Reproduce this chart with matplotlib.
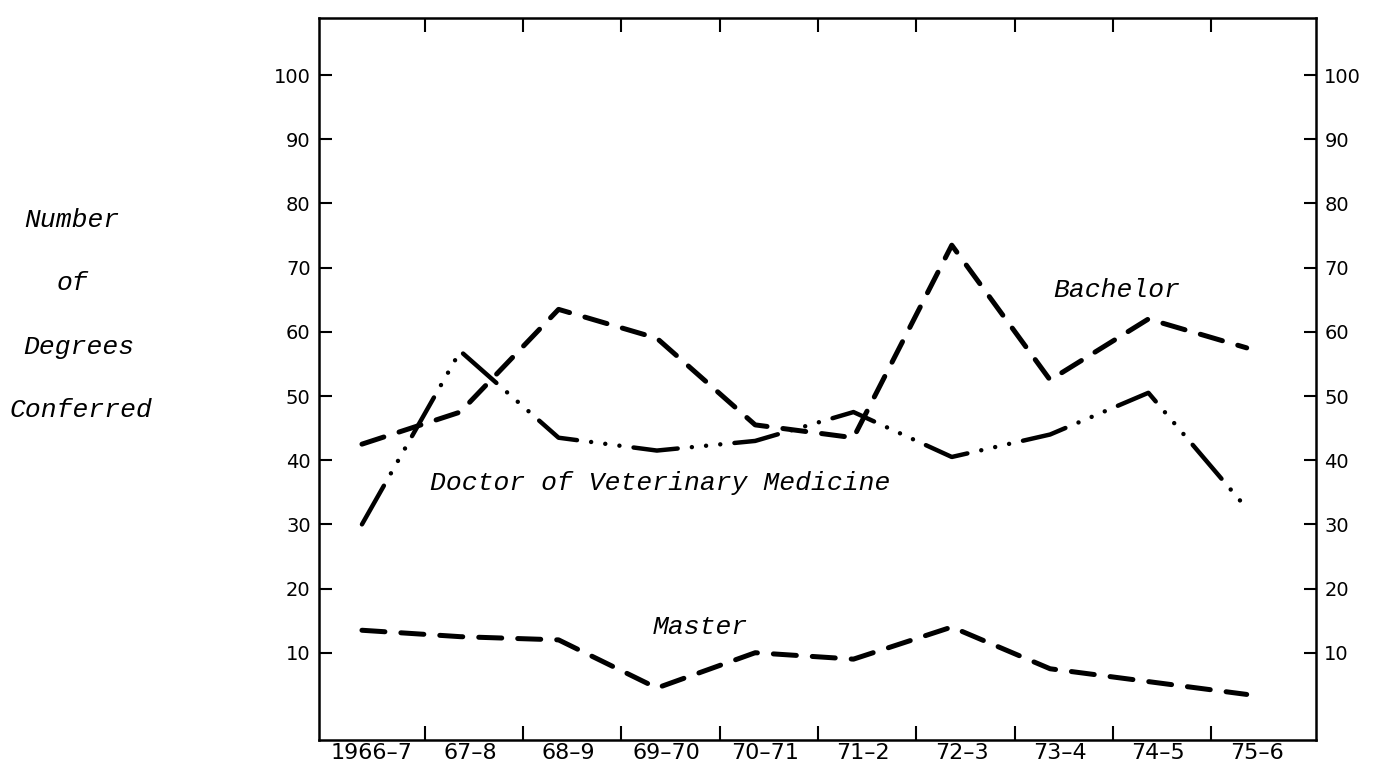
import numpy as np
import matplotlib
matplotlib.use("Agg")
import matplotlib.pyplot as plt

# 学位授与数 (読み取り値)
years = ["1966–7", "67–8", "68–9", "69–70", "70–71", "71–2", "72–3", "73–4", "74–5", "75–6"]
bachelor = [42.5, 47.5, 63.5, 59, 45.5, 43.5, 73.5, 52.5, 62, 57.5]
dvm = [30, 57, 43.5, 41.5, 43, 47.5, 40.5, 44, 50.5, 32.5]
master = [13.5, 12.5, 12, 4.5, 10, 9, 14, 7.5, 5.5, 3.5]
yticks = [10, 20, 30, 40, 50, 60, 70, 80, 90, 100]
ylabel_lines = ["Number", "of", "Degrees", "Conferred"]

W, H = 1380, 764
fig = plt.figure(figsize=(W/100, H/100), dpi=100)
ax = fig.add_axes([319/W, 1-740/H, (1316-319)/W, (740-18)/H])

x = np.arange(len(years))
mono = 'Liberation Mono'

ax.plot(x, bachelor, color='black', lw=3.6, dashes=(4.6, 3.2), dash_capstyle='round')
ax.plot(x, master, color='black', lw=3.6, dashes=(4.6, 3.2), dash_capstyle='round')
ax.plot(x, dvm, color='black', lw=3.2, dashes=(10, 3.2, 0.01, 3.2, 0.01, 3.2, 0.01, 3.2),
        dash_capstyle='round')

ax.set_xlim(-0.437, 9.705)
ax.set_ylim(-3.6, 108.9)

# ラベルは区間の中、目盛りは区間の境目
ax.set_xticks(x + 0.1, years)
ax.set_xticks(x[:-1] + 0.64, minor=True)
ax.tick_params(axis='x', which='major', length=0, pad=2, labelsize=16)
ax.tick_params(axis='x', which='minor', direction='in', length=10, width=1.5, top=True, bottom=True)

ax.set_yticks(yticks)
ax.tick_params(axis='y', direction='in', length=9, width=1.5, left=True, right=True,
               labelleft=True, labelright=True, labelsize=14, pad=6)

for s in ax.spines.values():
    s.set_linewidth(1.8)

ax.text(7.68, 66.5, "Bachelor", fontfamily=mono, style='italic', fontsize=19, ha='center', va='center')
ax.text(3.03, 36.4, "Doctor of Veterinary Medicine", fontfamily=mono, style='italic', fontsize=19, ha='center', va='center')
ax.text(3.44, 14.0, "Master", fontfamily=mono, style='italic', fontsize=19, ha='center', va='center')

for txt, px, py in zip(ylabel_lines, [72, 72, 79, 81], [220, 283, 347, 410]):
    fig.text(px/W, 1-py/H, txt, fontfamily=mono, style='italic', fontsize=19, ha='center', va='center')

fig.savefig("out.png", dpi=100)
